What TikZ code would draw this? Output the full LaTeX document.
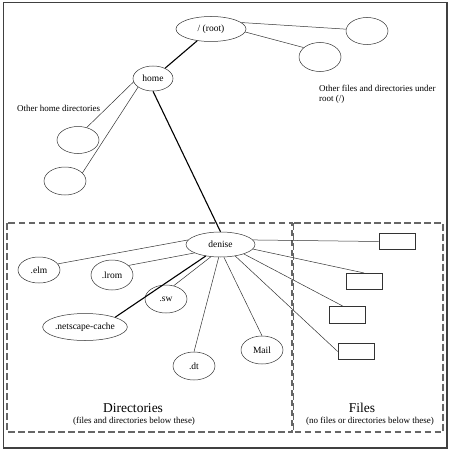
\documentclass[tikz,border=0pt]{standalone}
\usepackage{fontspec}
\setmainfont{Liberation Serif}
\usetikzlibrary{shapes.geometric}

\begin{document}
\begin{tikzpicture}[
    x=1pt, y=-1pt,
    % Node styles
    dir/.style={
        ellipse, draw=black!80, line width=0.5pt,
        inner sep=0pt, minimum width=42pt, minimum height=27pt,
        font=\fontsize{9.5}{10}\selectfont,
    },
    file/.style={
        rectangle, draw=black!80, line width=0.6pt,
        inner sep=0pt, minimum width=36pt, minimum height=16.5pt,
    },
    note/.style={
        font=\fontsize{9}{10}\selectfont, align=left, inner sep=0pt,
    },
    heading/.style={
        font=\fontsize{13.5}{14}\selectfont, inner sep=0pt,
    },
    subheading/.style={
        font=\fontsize{9}{10}\selectfont, inner sep=0pt,
    },
    line/.style={draw=black!80, line width=0.5pt},
    path line/.style={draw=black, line width=1.1pt},
    region/.style={
        draw=black!60, line width=1.1pt, dash pattern=on 6.5pt off 3.5pt,
    },
]
\useasboundingbox (0,0) rectangle (450,452);

% === Frame ===
\draw[draw=black!75, line width=1.6pt] (3.5,2.5) rectangle (447,448);

% === Regions ===
\draw[region] (7,223) rectangle (292,432);
\draw[region] (293.5,223) rectangle (443,432);

% === Top of the tree ===
\node[dir, minimum width=70pt, minimum height=25pt] (root) at (211,29) {/ (root)};
\node[dir] (r1) at (367,31) {};
\node[dir, minimum height=29pt] (r2) at (320,57) {};
\node[dir, minimum width=40pt, minimum height=25pt] (home) at (153,78.5) {home};
\node[dir] (h1) at (78,140) {};
\node[dir, minimum height=28pt] (h2) at (65,181) {};

% === Notes ===
\node[note, anchor=west] (homenote) at (17,108) {Other home directories};
\node[note, anchor=north west] (rootnote) at (319,85)
    {Other files and directories under\\root (/)};

% === Home directory of denise ===
\node[dir, minimum width=69pt, minimum height=25pt] (denise) at (220.5,244.5) {denise};
\node[dir, minimum height=26pt] (elm) at (39,270) {.elm};
\node[dir, minimum height=30pt] (lrom) at (112,275) {.lrom};
\node[dir, minimum height=28pt] (sw) at (166,299) {.sw};
\node[dir, minimum width=72pt] (ncache) at (85,327) {.netscape-cache};
\node[dir, minimum height=28pt] (dt) at (194,366) {.dt};
\node[dir, minimum height=28pt] (mail) at (262,350) {Mail};

% === Files ===
\node[file] (f1) at (397,241.5) {};
\node[file] (f2) at (364,281.5) {};
\node[file] (f3) at (347.5,315) {};
\node[file] (f4) at (356,351.5) {};

% === Region titles ===
\node[heading] (dirtitle) at (133,408) {Directories};
\node[subheading] (dirsub) at (134,421) {(files and directories below these)};
\node[heading] (filetitle) at (362,408) {Files};
\node[subheading] (filesub) at (370,421) {(no files or directories below these)};

% === Edges: the path to denise ===
\draw[path line] (root) -- (home);
\draw[path line] (home.south) -- (denise.north);

% === Edges: other entries ===
\draw[line] (root.12) -- (r1.175);
\draw[line] (root.-5) -- (r2.150);
\draw[line] (home.190) -- (h1.55);
\draw[line] (home.210) -- (h2.25);

% === Edges: below denise ===
\draw[line] (denise.172) -- (elm.18);
\draw[line] (denise.198) -- (lrom.30);
\draw[path line] (denise.218) -- (ncache.north east);
\draw[line] (denise.232) -- (sw.60);
\draw[line] (denise.262) -- (dt.north);
\draw[line] (denise.285) -- (mail.north);
\draw[line] (denise.8) -- (f1.west);
\draw[line] (denise.-8) -- (f2.north);
\draw[line] (denise.-22) -- (f3.115);
\draw[line] (denise.-38) -- (f4.west);

\end{tikzpicture}
\end{document}
